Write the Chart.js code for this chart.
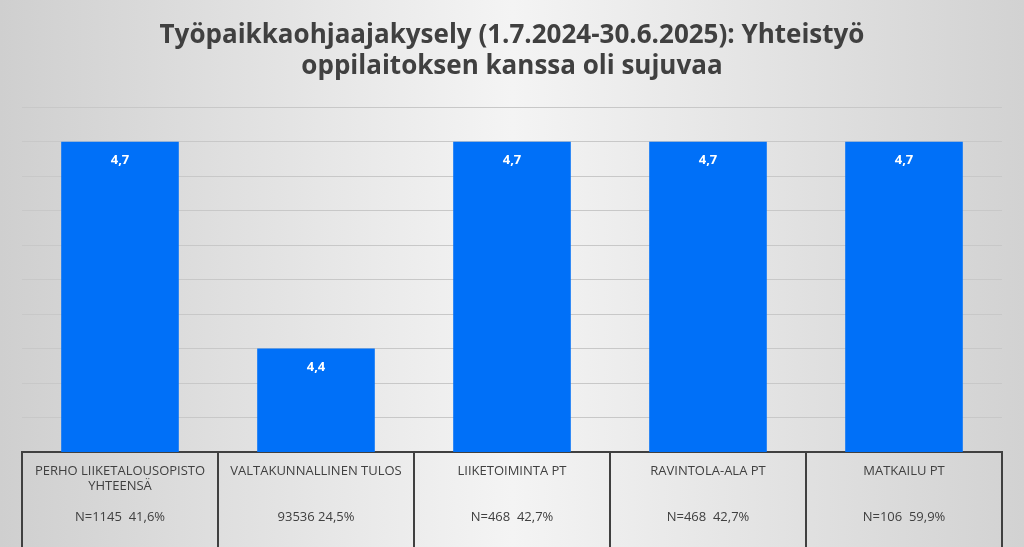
<!DOCTYPE html>
<html><head><script src="https://cdn.jsdelivr.net/npm/chart.js@4"></script>
<style>html,body{margin:0;padding:0}body{width:1024px;height:547px;background:linear-gradient(90deg,#cfcfcf,#f4f4f4 50%,#d2d2d2)}</style></head>
<body><canvas id="c" width="1024" height="547"></canvas>
<script>
const categories=[["PERHO LIIKETALOUSOPISTO","YHTEENSÄ","","N=1145  41,6%"],["VALTAKUNNALLINEN TULOS","","","93536 24,5%"],["LIIKETOIMINTA PT","","","N=468  42,7%"],["RAVINTOLA-ALA PT","","","N=468  42,7%"],["MATKAILU PT","","","N=106  59,9%"]];
const values=[4.7,4.4,4.7,4.7,4.7];
const labelsShown=["4,7","4,4","4,7","4,7","4,7"];
new Chart(document.getElementById('c'),{type:'bar',
data:{labels:categories,datasets:[{data:values,backgroundColor:'#0070f8',barPercentage:0.6,categoryPercentage:1}]},
options:{responsive:false,animation:false,layout:{padding:{left:22,right:22,top:0,bottom:0}},
plugins:{legend:{display:false},tooltip:{enabled:false},
title:{display:true,text:["Työpaikkaohjaajakysely (1.7.2024-30.6.2025): Yhteistyö","oppilaitoksen kanssa oli sujuvaa"],font:{family:'Open Sans',size:26,weight:'bold'},color:'#404040',padding:{top:20,bottom:25},lineHeight:1.45}},
scales:{y:{min:4.25,max:4.75,ticks:{display:false,stepSize:0.05},border:{display:false},grid:{color:'#c8c8c8',drawTicks:false}},
x:{offset:true,afterFit:s=>{s.height=95},grid:{offset:true,drawOnChartArea:false,color:'#404040',tickLength:95,lineWidth:2},border:{color:'#404040',width:2},
ticks:{color:'#404040',font:{family:'Open Sans',size:13},padding:-84,maxRotation:0,autoSkip:false}}}},
plugins:[{id:'vl',afterDatasetsDraw(ch){const x=ch.ctx;const m=ch.getDatasetMeta(0);x.save();x.fillStyle='#fff';x.font='bold 13px Open Sans';x.textAlign='center';
m.data.forEach((b,i)=>x.fillText(labelsShown[i],b.x,b.y+22));x.restore();}}]
});
</script></body></html>
